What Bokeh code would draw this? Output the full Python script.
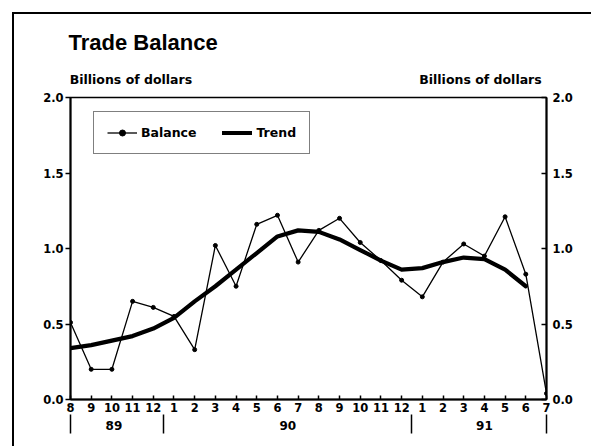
from bokeh.plotting import figure
from bokeh.models import (Range1d, LinearAxis, FixedTicker, Legend, LegendItem)
from bokeh.embed import file_html
from bokeh.resources import INLINE

# ---- data ----
months = ["8", "9", "10", "11", "12", "1", "2", "3", "4", "5", "6", "7",
          "8", "9", "10", "11", "12", "1", "2", "3", "4", "5", "6", "7"]
years = ["89", "90", "91"]
year_centers = [2.1, 10.5, 20.0]
year_breaks = [0, 4.5, 16.5, 23]
balance = [0.51, 0.20, 0.20, 0.65, 0.61, 0.55, 0.33, 1.02, 0.75, 1.16, 1.22, 0.91,
           1.12, 1.20, 1.04, 0.92, 0.79, 0.68, 0.91, 1.03, 0.95, 1.21, 0.83, 0.04]
trend = [0.34, 0.36, 0.39, 0.42, 0.47, 0.54, 0.65, 0.75, 0.86, 0.97, 1.08, 1.12,
         1.11, 1.06, 0.99, 0.92, 0.86, 0.87, 0.91, 0.94, 0.93, 0.86, 0.75]
y_ticks = [0.0, 0.5, 1.0, 1.5, 2.0]
y_tick_labels = ["0.0", "0.5", "1.0", "1.5", "2.0"]
unit_label = "Billions of dollars"
unit_label_pos = [2.92, 19.81]

x_bal = list(range(len(balance)))
x_tr = list(range(len(trend)))

FONT = "DejaVu Sans"

p = figure(frame_width=476, frame_height=302,
           min_border_left=56, min_border_right=45, min_border_top=82, min_border_bottom=47,
           x_range=Range1d(0, 23), y_range=Range1d(0, 2),
           output_backend="svg", toolbar_location=None, x_axis_location=None,
           y_axis_location=None, title="Trade Balance")
p.styles = {"margin-left": "12px", "margin-top": "12px",
            "border-left": "2px solid black", "border-top": "2px solid black"}
p.grid.visible = False
p.outline_line_color = "black"
p.outline_line_width = 1.5
p.background_fill_color = "white"
p.border_fill_color = "white"

p.title.align = "left"
p.title.offset = -2
p.title.standoff = 27
p.title.text_font = "Liberation Sans"
p.title.text_font_style = "bold"
p.title.text_font_size = "22px"
p.title.text_color = "black"


def style_labels(ax, size="11.5px"):
    ax.major_label_text_font = FONT
    ax.major_label_text_font_style = "bold"
    ax.major_label_text_font_size = size
    ax.major_label_text_color = "black"
    ax.minor_tick_line_color = None


# unit labels above the frame
ua = LinearAxis(ticker=FixedTicker(ticks=unit_label_pos),
                major_label_overrides={v: unit_label for v in unit_label_pos})
style_labels(ua, "12.5px")
ua.axis_line_color = None
ua.major_tick_line_color = None
ua.major_tick_in = 0
ua.major_tick_out = 0
ua.major_label_standoff = 11
p.add_layout(ua, "above")

# bottom axis with months
xa = LinearAxis(ticker=FixedTicker(ticks=list(range(24))),
                major_label_overrides={i: m for i, m in enumerate(months)})
style_labels(xa)
xa.major_tick_in = 4
xa.major_tick_out = 0
xa.axis_line_width = 2
xa.major_tick_line_width = 1.5
xa.major_label_standoff = 3
p.add_layout(xa, "below")

# year axis: labels at year centres, separators as minor ticks
ya_years = LinearAxis(ticker=FixedTicker(ticks=year_centers, minor_ticks=year_breaks),
                      major_label_overrides={c: y for c, y in zip(year_centers, years)})
style_labels(ya_years, "12px")
ya_years.minor_tick_line_color = "black"
ya_years.axis_line_color = None
ya_years.major_tick_line_color = None
ya_years.major_tick_in = 0
ya_years.major_tick_out = 0
ya_years.minor_tick_in = 0
ya_years.minor_tick_out = 19
ya_years.minor_tick_line_width = 1.5
ya_years.major_label_standoff = -13
p.add_layout(ya_years, "below")

# left axis
ya = LinearAxis(ticker=FixedTicker(ticks=y_ticks),
                major_label_overrides={t: s for t, s in zip(y_ticks, y_tick_labels)})
style_labels(ya)
ya.major_tick_in = 0
ya.major_tick_out = 5
ya.axis_line_width = 2
ya.major_tick_line_width = 1.5
ya.major_label_standoff = 2
p.add_layout(ya, "left")

# right axis
yb = LinearAxis(ticker=FixedTicker(ticks=y_ticks),
                major_label_overrides={t: s for t, s in zip(y_ticks, y_tick_labels)})
style_labels(yb)
yb.major_tick_in = 5
yb.major_tick_out = 0
yb.axis_line_width = 2
yb.major_tick_line_width = 1.5
yb.major_label_standoff = 6
p.add_layout(yb, "right")

# data
r_bal_line = p.line(x_bal, balance, line_color="black", line_width=1.3)
r_bal_pts = p.scatter(x_bal, balance, size=4, color="black")
r_trend = p.line(x_tr, trend, line_color="black", line_width=4.2,
                 line_join="round", line_cap="round")

legend = Legend(items=[LegendItem(label="Balance", renderers=[r_bal_line, r_bal_pts]),
                       LegendItem(label="Trend", renderers=[r_trend])],
                orientation="horizontal", location=(23, 245))
legend.border_line_color = "black"
legend.border_line_width = 1.5
legend.background_fill_alpha = 1
legend.padding = 13
legend.spacing = 26
legend.glyph_width = 30
legend.glyph_height = 15
legend.label_height = 15
legend.label_standoff = 4
legend.label_text_font = FONT
legend.label_text_font_style = "bold"
legend.label_text_font_size = "12.5px"
legend.label_text_color = "black"
p.add_layout(legend, "center")

open("out.html", "w").write(file_html(p, INLINE))
